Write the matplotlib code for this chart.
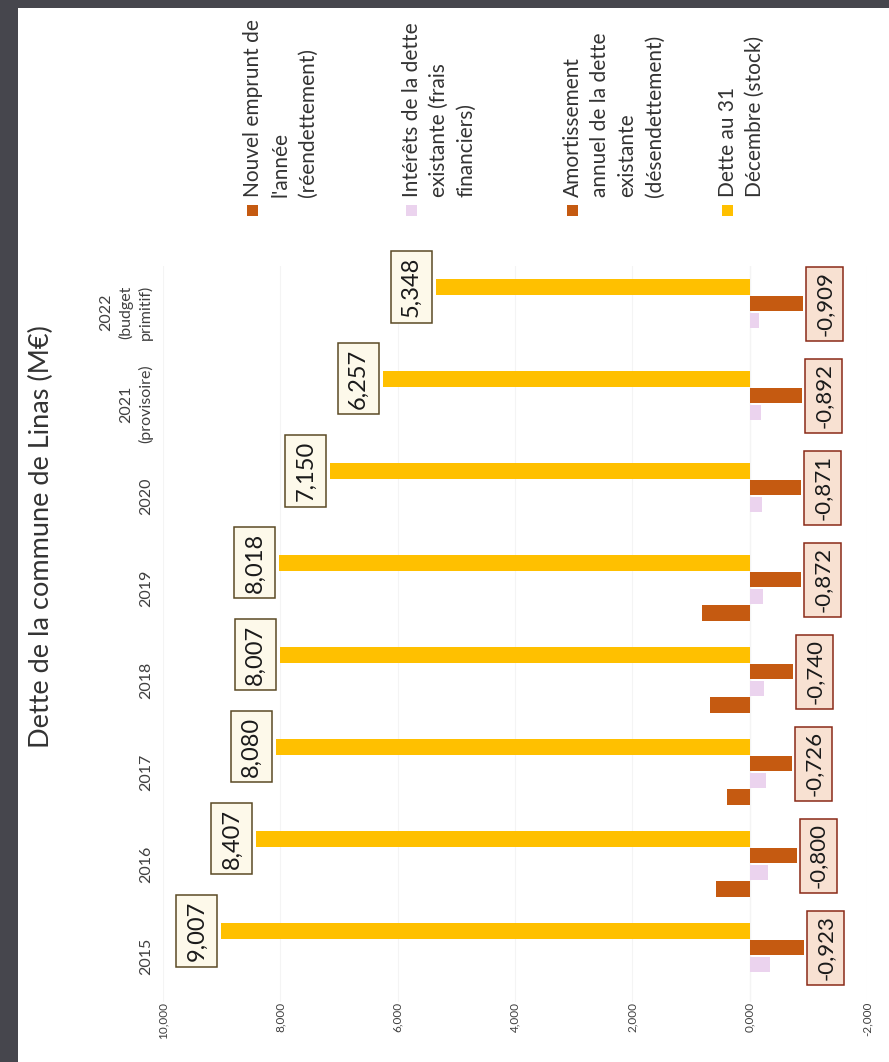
import matplotlib
matplotlib.use("Agg")
import matplotlib.pyplot as plt
from matplotlib.patches import Rectangle
from matplotlib.path import Path
import numpy as np

plt.rcParams["font.family"] = ["Lato", "DejaVu Sans"]

# data (M€)
years = ["2015", "2016", "2017", "2018", "2019", "2020",
         "2021\n(provisoire)", "2022\n(budget\nprimitif)"]
nouvel_emprunt = [0.0, 0.58, 0.39, 0.68, 0.81, 0.0, 0.0, 0.0]
interets = [-0.34, -0.32, -0.28, -0.25, -0.23, -0.21, -0.19, -0.16]
amortissement = [-0.923, -0.800, -0.726, -0.740, -0.872, -0.871, -0.892, -0.909]
dette = [9.007, 8.407, 8.080, 8.007, 8.018, 7.150, 6.257, 5.348]
value_ticks = [10, 8, 6, 4, 2, 0, -2]

legend_labels = [
    "Nouvel emprunt de\nl'année\n(réendettement)",
    "Intérêts de la dette\nexistante (frais\nfinanciers)",
    "Amortissement\nannuel de la dette\nexistante\n(désendettement)",
    "Dette au 31\nDécembre (stock)",
]

ORANGE = "#C55A11"
PINK = "#EBD3EE"
YELLOW = "#FFC000"
colors = [ORANGE, PINK, ORANGE, YELLOW]

W, H = 889, 1062


def px(x, y):
    # pixel position (from top-left) -> figure fraction
    return x / W, 1 - y / H


def fmt(v):
    return f"{v:.3f}".replace(".", ",")


def label_box(pad_len, pad_thick):
    # rectangular box with separate padding along and across the text (pixels)
    def box(x0, y0, width, height, mutation_size):
        xa, xb = x0 - pad_len, x0 + width + pad_len
        ya, yb = y0 - pad_thick, y0 + height + pad_thick
        return Path([(xa, ya), (xb, ya), (xb, yb), (xa, yb), (xa, ya)],
                    closed=True)
    return box


fig = plt.figure(figsize=(W / 100, H / 100), dpi=100)
fig.patch.set_facecolor("#46464d")
fig.patches.append(Rectangle(px(18, H), (W - 18) / W, (H - 8) / H,
                             transform=fig.transFigure, facecolor="white",
                             edgecolor="none", zorder=-5))

x0, _ = px(163, 0)
x1, _ = px(867, 0)
_, y0 = px(0, 1002)
_, y1 = px(0, 266)
ax = fig.add_axes([x0, y0, x1 - x0, y1 - y0])
ax.set_facecolor("none")

idx = np.arange(len(years))
step = 0.182
height = 0.168
series = [nouvel_emprunt, interets, amortissement, dette]
for k, (vals, col) in enumerate(zip(series, colors)):
    ax.barh(idx + (k - 1.5) * step, vals, height=height, color=col, zorder=3)

# value labels on the stock and on the repayment
for i, v in enumerate(dette):
    ax.annotate(fmt(v), xy=(v, i + 1.5 * step), xytext=(-14, 0),
                textcoords="offset pixels", rotation=90, ha="right", va="center",
                fontsize=17, color="#1a1a1a",
                bbox=dict(boxstyle=label_box(5.5, 10), facecolor="#FDF9EA",
                          edgecolor="#5b4a25", linewidth=1.1), zorder=5)
for i, v in enumerate(amortissement):
    ax.annotate(fmt(v), xy=(v, i + 0.5 * step), xytext=(11.5, 0),
                textcoords="offset pixels", rotation=90, ha="left", va="center",
                fontsize=16, color="#1a1a1a",
                bbox=dict(boxstyle=label_box(4.5, 8.5), facecolor="#F8E1D2",
                          edgecolor="#8a2a18", linewidth=1.1), zorder=5)

ax.set_xlim(value_ticks[0], value_ticks[-1])
ax.set_ylim(-0.5, len(years) - 0.5)
ax.set_xticks(value_ticks)
ax.set_xticklabels([fmt(t) for t in value_ticks], rotation=90, fontsize=8.5,
                   color="#404040")
ax.tick_params(axis="x", length=0, pad=0)
ax.set_yticks(idx)
ax.set_yticklabels(years, rotation=90, va="center", ha="right",
                   multialignment="center", linespacing=1.4, fontsize=11.5,
                   color="#404040")
ax.tick_params(axis="y", length=0, pad=7)
ax.grid(axis="x", color="#f4f4f4", linewidth=0.8, zorder=0)
ax.axvline(0, color="#e4e4e4", linewidth=0.8, zorder=1)
for s in ax.spines.values():
    s.set_visible(False)

fig.text(*px(41, 537), "Dette de la commune de Linas (M€)", rotation=90,
         ha="center", va="center", fontsize=19.5, color="#333333")

# legend drawn with rotated text
leg_x = [243, 402, 563, 718]
for lx, lab, col in zip(leg_x, legend_labels, colors):
    sx, sy = px(lx + 4, 216)
    fig.patches.append(Rectangle((sx, sy), 11 / W, 11 / H,
                                 transform=fig.transFigure, facecolor=col,
                                 edgecolor="none"))
    fig.text(*px(lx, 197), lab, rotation=90, ha="left", va="bottom",
             multialignment="left", fontsize=15, linespacing=1.45,
             color="#333333")

fig.savefig("out.png", dpi=100, facecolor=fig.get_facecolor())
